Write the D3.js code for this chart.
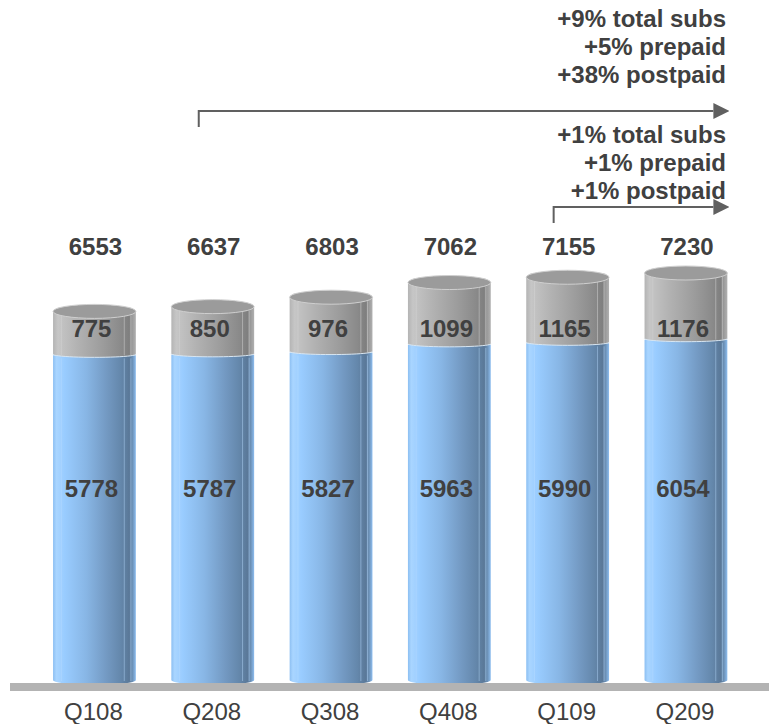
<!DOCTYPE html>
<html>
<head>
<meta charset="utf-8">
<script src="https://cdn.jsdelivr.net/npm/d3@7/dist/d3.min.js"></script>
<style>
  html, body { margin: 0; padding: 0; background: #ffffff; }
  svg text { font-family: "Liberation Sans", Arial, Helvetica, sans-serif; }
</style>
</head>
<body>
<svg id="chart" width="769" height="724"></svg>
<script>
// Subscribers by quarter (thousands)
const categories = ["Q108", "Q208", "Q308", "Q408", "Q109", "Q209"];
const prepaid    = [5778, 5787, 5827, 5963, 5990, 6054];
const postpaid   = [775, 850, 976, 1099, 1165, 1176];
const totals     = [6553, 6637, 6803, 7062, 7155, 7230];

// Growth call-outs: label lines and the quarter where each arrow begins
const growthYear    = ["+9% total subs", "+5% prepaid", "+38% postpaid"];
const growthQuarter = ["+1% total subs", "+1% prepaid", "+1% postpaid"];
const arrowStarts   = ["Q208", "Q109"];

const svg = d3.select("#chart");
const defs = svg.append("defs");

const x = d3.scaleBand()
  .domain(categories)
  .range([35.3, 745.1])
  .paddingInner(0.3)
  .paddingOuter(0.15);

const y = d3.scaleLinear()
  .domain([0, 7230])
  .range([683, 273]);

const bw = x.bandwidth();
const rx = bw / 2;
const ryTop = 7;
const textColor = "#404040";

// Cylinder shading
function hGradient(id, stops) {
  const g = defs.append("linearGradient").attr("id", id)
    .attr("x1", "0%").attr("x2", "100%").attr("y1", "0%").attr("y2", "0%");
  stops.forEach(([o, c]) => g.append("stop").attr("offset", o).attr("stop-color", c));
}
hGradient("blueBody", [
  ["0%", "#8cbff2"], ["4%", "#a9d5ff"], ["14%", "#99ccff"], ["40%", "#88b6e5"],
  ["65%", "#7399c2"], ["82%", "#6487ab"], ["92%", "#5a7898"], ["96%", "#6d92b8"],
  ["100%", "#8dbdef"]
]);
hGradient("grayBody", [
  ["0%", "#b4b4b4"], ["6%", "#c6c6c6"], ["30%", "#b2b2b2"], ["60%", "#9c9c9c"],
  ["82%", "#8a8a8a"], ["92%", "#7f7f7f"], ["96%", "#9c9c9c"], ["100%", "#b0b0b0"]
]);

const rows = categories.map((c, i) => ({
  cat: c, pre: prepaid[i], post: postpaid[i], total: totals[i]
}));

// front half of an ellipse, right to left, appended to a path
function frontArc(p, x0, yc, ry) {
  const n = 24;
  for (let k = 1; k <= n; k++) {
    const t = k / n * Math.PI;
    p.lineTo(x0 + rx + rx * Math.cos(t), yc + ry * Math.sin(t));
  }
}

// Body path: rectangle with elliptical lower edge
function bodyPath(x0, yTop, yBottom, ryBottom) {
  const p = d3.path();
  p.moveTo(x0, yTop);
  p.lineTo(x0 + bw, yTop);
  p.lineTo(x0 + bw, yBottom);
  frontArc(p, x0, yBottom, ryBottom);
  p.closePath();
  return p.toString();
}

const bars = svg.append("g").selectAll("g.bar").data(rows).join("g").attr("class", "bar");

// prepaid (blue) body
bars.append("path")
  .attr("d", d => bodyPath(x(d.cat), y(d.pre), y(0) - 3, 5))
  .attr("fill", "url(#blueBody)");

// faint highlight strips on the blue body
bars.each(function(d) {
  const g = d3.select(this);
  [0.10, 0.86, 0.94].forEach(f => {
    g.append("line")
      .attr("x1", x(d.cat) + bw * f).attr("x2", x(d.cat) + bw * f)
      .attr("y1", y(d.pre) + 3).attr("y2", y(0) - 2)
      .attr("stroke", "#b8dcff").attr("stroke-opacity", 0.45).attr("stroke-width", 1);
  });
});

// postpaid (gray) body, its lower edge curving over the blue
bars.append("path")
  .attr("d", d => bodyPath(x(d.cat), y(d.total), y(d.pre) - 1, 3))
  .attr("fill", "url(#grayBody)");

bars.append("path")
  .attr("d", d => {
    const p = d3.path();
    const x0 = x(d.cat), yb = y(d.pre) - 1;
    p.moveTo(x0 + bw, yb);
    frontArc(p, x0, yb, 3);
    return p.toString();
  })
  .attr("fill", "none").attr("stroke", "#d8e6f2").attr("stroke-width", 1);

bars.each(function(d) {
  const g = d3.select(this);
  [0.10, 0.86, 0.94].forEach(f => {
    g.append("line")
      .attr("x1", x(d.cat) + bw * f).attr("x2", x(d.cat) + bw * f)
      .attr("y1", y(d.total) + 4).attr("y2", y(d.pre))
      .attr("stroke", "#d6d6d6").attr("stroke-opacity", 0.5).attr("stroke-width", 1);
  });
});

// top cap
bars.append("ellipse")
  .attr("cx", d => x(d.cat) + rx)
  .attr("cy", d => y(d.total))
  .attr("rx", rx)
  .attr("ry", ryTop)
  .attr("fill", "#9b9b9b")
  .attr("stroke", "#cfcfcf")
  .attr("stroke-width", 1);

// baseline floor
svg.append("rect")
  .attr("x", 10).attr("y", y(0))
  .attr("width", 759).attr("height", 8)
  .attr("fill", "#b3b3b3");

// value labels
const lab = svg.append("g")
  .attr("font-weight", "bold").attr("font-size", 24)
  .attr("fill", textColor).attr("text-anchor", "middle");

lab.selectAll("text.total").data(rows).join("text").attr("class", "total")
  .attr("x", d => x(d.cat) + rx + 1).attr("y", 255).text(d => d.total);

lab.selectAll("text.post").data(rows).join("text").attr("class", "post")
  .attr("x", d => x(d.cat) + rx - 3).attr("y", 337).text(d => d.post);

lab.selectAll("text.pre").data(rows).join("text").attr("class", "pre")
  .attr("x", d => x(d.cat) + rx - 3).attr("y", 497).text(d => d.pre);

// category axis labels
svg.append("g").selectAll("text").data(categories).join("text")
  .attr("x", d => x(d) + rx - 1).attr("y", 720)
  .attr("text-anchor", "middle").attr("font-size", 24)
  .attr("fill", textColor).text(d => d);

// growth arrows
defs.append("marker").attr("id", "head")
  .attr("viewBox", "0 0 10 10").attr("refX", 0).attr("refY", 5)
  .attr("markerWidth", 8).attr("markerHeight", 8.5)
  .attr("markerUnits", "strokeWidth").attr("orient", "auto")
  .append("path").attr("d", "M0,0 L10,5 L0,10 Z").attr("fill", "#606060");

const lastCat = categories[categories.length - 1];
const arrowEnd = x(lastCat) + bw - 14;
const arrowRows = [
  { start: arrowStarts[0], yLine: 111, lines: growthYear, yText: 27 },
  { start: arrowStarts[1], yLine: 207, lines: growthQuarter, yText: 143 }
];

arrowRows.forEach(a => {
  const sx = x(a.start) + rx - 14;
  svg.append("path")
    .attr("d", `M${sx},${a.yLine + 16} L${sx},${a.yLine} L${arrowEnd},${a.yLine}`)
    .attr("fill", "none").attr("stroke", "#606060").attr("stroke-width", 2)
    .attr("marker-end", "url(#head)");
  svg.append("g").selectAll("text").data(a.lines).join("text")
    .attr("x", 726).attr("y", (d, i) => a.yText + i * 28)
    .attr("text-anchor", "end").attr("font-weight", "bold").attr("font-size", 24)
    .attr("fill", textColor).text(d => d);
});
</script>
</body>
</html>
